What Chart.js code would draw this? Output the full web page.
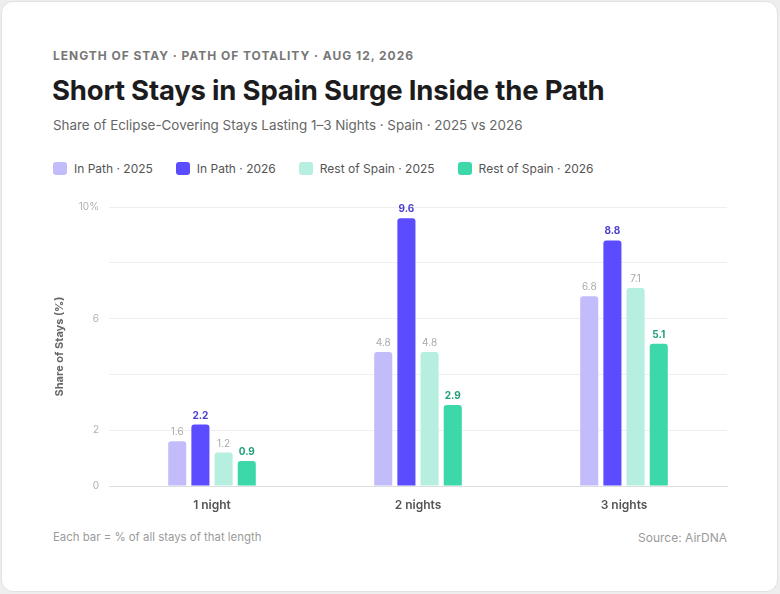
<!DOCTYPE html>
<html>
<head>
<meta charset="utf-8">
<script src="https://cdn.jsdelivr.net/npm/chart.js@4.4.1/dist/chart.umd.min.js"></script>
<style>
  html, body { margin: 0; padding: 0; }
  body { width: 780px; height: 594px; background: #eeeeee; font-family: Inter, "Noto Sans", sans-serif; overflow: hidden; }
  .card { position: absolute; left: 1px; top: 1px; width: 775px; height: 589px; background: #fff; border: 1px solid #e2e2e2; border-radius: 12px; }
  .kicker { position: absolute; left: 53px; top: 48px; font-size: 12px; font-weight: 700; letter-spacing: 0.97px; color: #777; }
  .title { position: absolute; left: 52px; top: 73px; font-size: 27.5px; font-weight: 700; color: #1c1c1e; letter-spacing: -0.2px; }
  .subtitle { position: absolute; left: 53px; top: 117px; font-size: 13.4px; color: #666; }
  .legend { position: absolute; left: 53px; top: 161px; display: flex; font-size: 12px; color: #555; }
  .legend .item { display: flex; align-items: center; margin-right: 23px; }
  .legend .sw { width: 14px; height: 13px; border-radius: 3px; margin-right: 7px; }
  .chartbox { position: absolute; left: 41px; top: 190px; width: 699px; height: 330px; }
  .foot { position: absolute; top: 530px; font-size: 11.4px; color: #9a9a9a; }
</style>
</head>
<body>
<div class="card"></div>
<div class="kicker">LENGTH OF STAY · PATH OF TOTALITY · AUG 12, 2026</div>
<div class="title">Short Stays in Spain Surge Inside the Path</div>
<div class="subtitle">Share of Eclipse-Covering Stays Lasting 1–3 Nights · Spain · 2025 vs 2026</div>
<div class="legend" id="legend"></div>
<div class="chartbox"><canvas id="chart"></canvas></div>
<div class="foot" style="left:53px">Each bar = % of all stays of that length</div>
<div class="foot" style="right:53px; font-size:12px">Source: AirDNA</div>

<script>
const categories = ['1 night', '2 nights', '3 nights'];
const seriesNames = ['In Path · 2025', 'In Path · 2026', 'Rest of Spain · 2025', 'Rest of Spain · 2026'];
const inPath2025 = [1.6, 4.8, 6.8];
const inPath2026 = [2.2, 9.6, 8.8];
const rest2025 = [1.2, 4.8, 7.1];
const rest2026 = [0.9, 2.9, 5.1];
const shownTicks = [0, 2, 6, 10];

const barColors = ['#c3bcfa', '#5b4dff', '#b6eee0', '#3dd8aa'];
const labelColors = ['#aaaaaa', '#4a3fcc', '#aaaaaa', '#1f9e7b'];
const boldLabel = [false, true, false, true];
const seriesValues = [inPath2025, inPath2026, rest2025, rest2026];

// legend
const legend = document.getElementById('legend');
seriesNames.forEach((name, i) => {
  const item = document.createElement('div');
  item.className = 'item';
  item.innerHTML = '<span class="sw" style="background:' + barColors[i] + '"></span>' + name;
  legend.appendChild(item);
});

// value labels above bars
const valueLabels = {
  id: 'valueLabels',
  afterDatasetsDraw(chart) {
    const ctx = chart.ctx;
    ctx.save();
    ctx.textAlign = 'center';
    ctx.textBaseline = 'bottom';
    chart.data.datasets.forEach((ds, i) => {
      const meta = chart.getDatasetMeta(i);
      ctx.font = (boldLabel[i] ? '700 ' : '400 ') + '10px Inter, sans-serif';
      ctx.fillStyle = labelColors[i];
      meta.data.forEach((bar, j) => {
        ctx.fillText(ds.data[j].toFixed(1), bar.x, bar.y - 4);
      });
    });
    ctx.restore();
  }
};

new Chart(document.getElementById('chart'), {
  type: 'bar',
  data: {
    labels: categories,
    datasets: seriesNames.map((name, i) => ({
      label: name,
      data: seriesValues[i],
      backgroundColor: barColors[i],
      borderRadius: { topLeft: 3, topRight: 3 },
      borderSkipped: 'bottom',
      categoryPercentage: 0.45,
      barPercentage: 0.78
    }))
  },
  options: {
    responsive: true,
    maintainAspectRatio: false,
    animation: false,
    layout: { padding: { top: 17, right: 13, left: 0, bottom: 0 } },
    plugins: { legend: { display: false }, tooltip: { enabled: false } },
    scales: {
      x: {
        grid: { display: false },
        border: { color: '#dedede' },
        ticks: { color: '#555', font: { family: 'Inter', size: 12, weight: '600' }, padding: 4 },
        afterFit(scale) { scale.height = 34; }
      },
      y: {
        min: 0,
        max: 10,
        border: { display: false },
        grid: {
          drawTicks: false,
          color: ctx => ctx.tick && ctx.tick.value === 0 ? '#dedede' : '#efefef'
        },
        ticks: {
          stepSize: 2,
          padding: 10,
          color: '#b0b0b0',
          font: { family: 'Inter', size: 10 },
          callback: v => shownTicks.includes(v) ? (v === 10 ? v + '%' : String(v)) : ''
        },
        title: {
          display: true,
          text: 'Share of Stays (%)',
          color: '#666',
          font: { family: 'Inter', size: 11, weight: '700' },
          padding: { top: 12, bottom: 0 }
        },
        afterFit(scale) { scale.width = 68; }
      }
    }
  },
  plugins: [valueLabels]
});
</script>
</body>
</html>
